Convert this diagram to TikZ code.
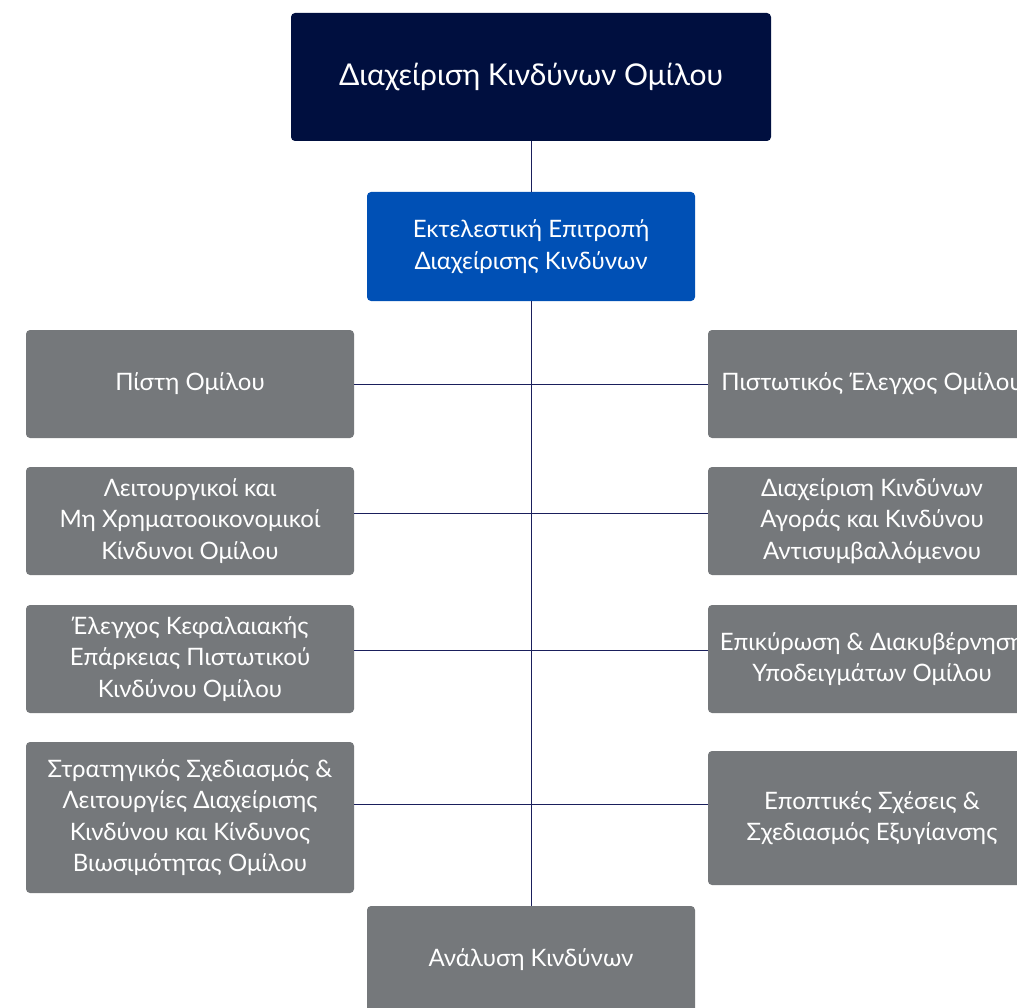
\documentclass[tikz,border=0pt]{standalone}
\usepackage{fontspec}
\setmainfont{Lato}
\definecolor{navy}{HTML}{000F3F}
\definecolor{bluebox}{HTML}{0050B5}
\definecolor{greybox}{HTML}{75787B}
\definecolor{linec}{HTML}{1A1F5C}
\begin{document}
\begin{tikzpicture}[x=1pt,y=-1pt,
  box/.style={rectangle, rounded corners=4pt, fill=greybox, text=white, align=center,
    minimum width=328pt, minimum height=108pt, inner sep=0pt,
    font=\fontsize{24}{31.5}\selectfont},
  conn/.style={draw=linec, line width=1pt}]
\useasboundingbox (0,0) rectangle (1017,1008);
\clip (0,0) rectangle (1017,1008);
\node[box, fill=navy, minimum width=480pt, minimum height=128pt, font=\fontsize{30}{36}\selectfont] (top) at (531,77) {Διαχείριση Κινδύνων Ομίλου};
\node[box, fill=bluebox, minimum height=109pt] (exec) at (531,246.5) {Εκτελεστική Επιτροπή\\Διαχείρισης Κινδύνων};
\node[box] (l1) at (190,384) {Πίστη Ομίλου};
\node[box] (l2) at (190,521) {Λειτουργικοί και\\Μη Χρηματοοικονομικοί\\Κίνδυνοι Ομίλου};
\node[box] (l3) at (190,659) {Έλεγχος Κεφαλαιακής\\Επάρκειας Πιστωτικού\\Κινδύνου Ομίλου};
\node[box, minimum height=151pt] (l4) at (190,817.5) {Στρατηγικός Σχεδιασμός \&\\Λειτουργίες Διαχείρισης\\Κινδύνου και Κίνδυνος\\Βιωσιμότητας Ομίλου};
\node[box] (r1) at (872,384) {Πιστωτικός Έλεγχος Ομίλου};
\node[box] (r2) at (872,521) {Διαχείριση Κινδύνων\\Αγοράς και Κινδύνου\\Αντισυμβαλλόμενου};
\node[box] (r3) at (872,659) {Επικύρωση \& Διακυβέρνηση\\Υποδειγμάτων Ομίλου};
\node[box, minimum height=134pt] (r4) at (872,818) {Εποπτικές Σχέσεις \&\\Σχεδιασμός Εξυγίανσης};
\node[box] (bot) at (531,960) {Ανάλυση Κινδύνων};
\draw[conn] (top.south) -- (exec.north);
\draw[conn] (exec.south) -- (bot.north);
\draw[conn] (l1.east) -- (r1.west);
\draw[conn] (l2.east |- 0,513) -- (r2.west |- 0,513);
\draw[conn] (l3.east |- 0,650) -- (r3.west |- 0,650);
\draw[conn] (l4.east |- 0,804) -- (r4.west |- 0,804);
\end{tikzpicture}
\end{document}
